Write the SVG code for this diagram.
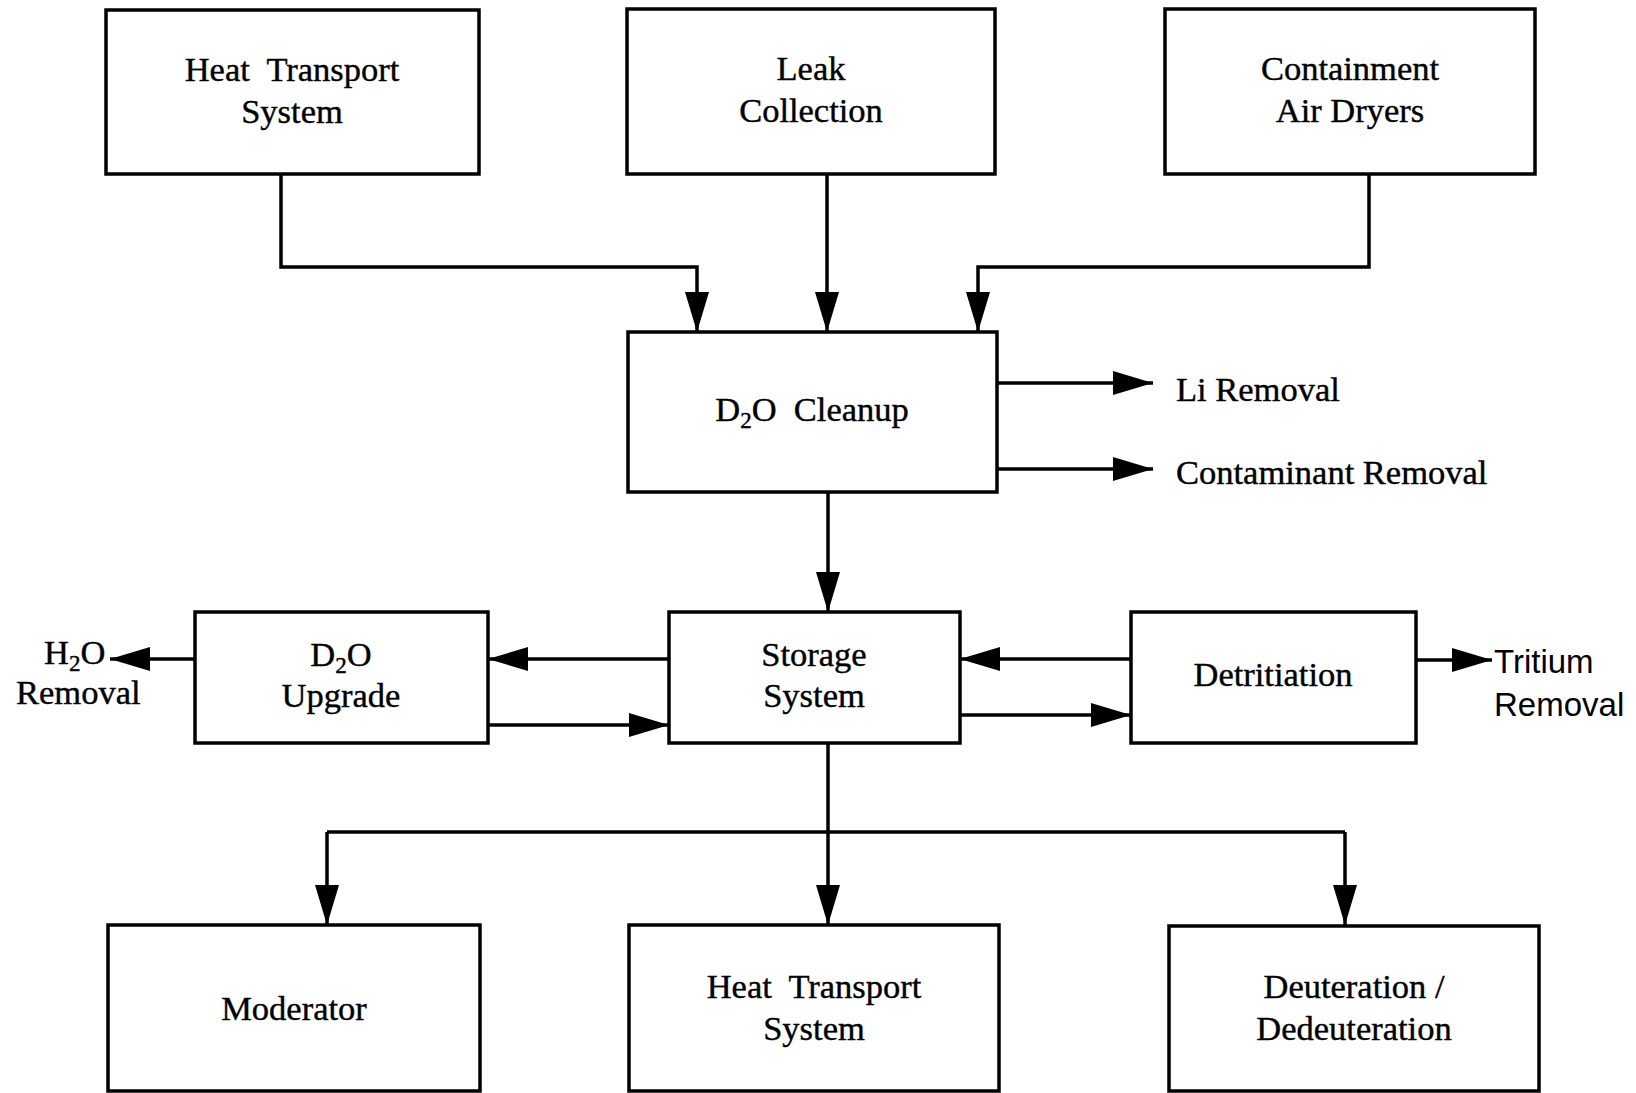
<svg xmlns="http://www.w3.org/2000/svg" width="1636" height="1093" viewBox="0 0 1636 1093">
<style>
.box{fill:#fff;stroke:#000;stroke-width:3.5}
.t{font-family:"Liberation Serif","Times New Roman",serif;font-size:34.5px;fill:#000;stroke:#000;stroke-width:0.4;text-anchor:middle}
.tl{font-family:"Liberation Serif","Times New Roman",serif;font-size:34.5px;fill:#000;stroke:#000;stroke-width:0.4}
.s{font-family:"Liberation Sans",Arial,sans-serif;font-size:33px;fill:#000}
.c{fill:none;stroke:#000;stroke-width:3.5;marker-end:url(#ah)}
.cn{fill:none;stroke:#000;stroke-width:3.5}
</style>
<defs>
<marker id="ah" markerUnits="userSpaceOnUse" markerWidth="42" markerHeight="26" refX="40" refY="12" orient="auto">
<path d="M0,0 L40,12 L0,24 Z" fill="#000"/>
</marker>
</defs>
<rect width="1636" height="1093" fill="#fff"/>
<g id="connectors">
<path class="c" d="M281,174 V267 H697 V332"/>
<path class="c" d="M827,174 V332"/>
<path class="c" d="M1369,174 V267 H978 V332"/>
<path class="c" d="M997,383 H1153"/>
<path class="c" d="M997,469 H1153"/>
<path class="c" d="M828,492 V612"/>
<path class="c" d="M669,659 H488"/>
<path class="c" d="M488,725 H669"/>
<path class="c" d="M1131,659 H960"/>
<path class="c" d="M960,715 H1131"/>
<path class="c" d="M195,659 H110"/>
<path class="c" d="M1416,660 H1492"/>
<path class="c" d="M828,743 V925"/>
<path class="cn" d="M327,832 H1345"/>
<path class="c" d="M327,832 V925"/>
<path class="c" d="M1345,832 V925"/>
</g>
<g id="hts-top">
<rect class="box" x="106" y="10" width="373" height="164"/>
<text class="t" x="292" y="81" xml:space="preserve">Heat  Transport</text>
<text class="t" x="292" y="123">System</text>
</g>
<g id="leak">
<rect class="box" x="627" y="9" width="368" height="165"/>
<text class="t" x="811" y="80">Leak</text>
<text class="t" x="811" y="122">Collection</text>
</g>
<g id="containment">
<rect class="box" x="1165" y="9" width="370" height="165"/>
<text class="t" x="1350" y="80">Containment</text>
<text class="t" x="1350" y="122">Air Dryers</text>
</g>
<g id="cleanup">
<rect class="box" x="628" y="332" width="369" height="160"/>
<text class="t" x="812" y="421" xml:space="preserve">D<tspan font-size="23" dy="7">2</tspan><tspan dy="-7">O  Cleanup</tspan></text>
</g>
<g id="li-removal">
<text class="tl" x="1176" y="401">Li Removal</text>
</g>
<g id="contaminant-removal">
<text class="tl" x="1176" y="484">Contaminant Removal</text>
</g>
<g id="storage">
<rect class="box" x="669" y="612" width="291" height="131"/>
<text class="t" x="814" y="666">Storage</text>
<text class="t" x="814" y="707">System</text>
</g>
<g id="upgrade">
<rect class="box" x="195" y="612" width="293" height="131"/>
<text class="t" x="341" y="666">D<tspan font-size="23" dy="7">2</tspan><tspan dy="-7">O</tspan></text>
<text class="t" x="341" y="707">Upgrade</text>
</g>
<g id="h2o-removal">
<text class="tl" x="44" y="664">H<tspan font-size="23" dy="7">2</tspan><tspan dy="-7">O</tspan></text>
<text class="tl" x="16" y="704">Removal</text>
</g>
<g id="detritiation">
<rect class="box" x="1131" y="612" width="285" height="131"/>
<text class="t" x="1273" y="686">Detritiation</text>
</g>
<g id="tritium-removal">
<text class="s" x="1494" y="673">Tritium</text>
<text class="s" x="1494" y="716">Removal</text>
</g>
<g id="moderator">
<rect class="box" x="108" y="925" width="372" height="166"/>
<text class="t" x="294" y="1020">Moderator</text>
</g>
<g id="hts-bottom">
<rect class="box" x="629" y="925" width="370" height="166"/>
<text class="t" x="814" y="998" xml:space="preserve">Heat  Transport</text>
<text class="t" x="814" y="1040">System</text>
</g>
<g id="deuteration">
<rect class="box" x="1169" y="926" width="370" height="165"/>
<text class="t" x="1354" y="998">Deuteration /</text>
<text class="t" x="1354" y="1040">Dedeuteration</text>
</g>
</svg>
